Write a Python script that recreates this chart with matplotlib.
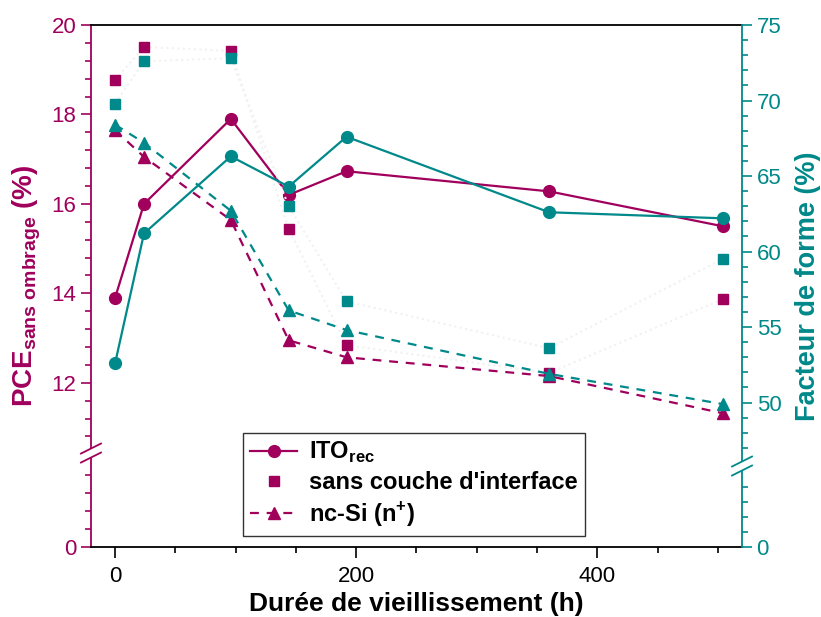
import numpy as np
import matplotlib
matplotlib.use('Agg')
import matplotlib.pyplot as plt
from matplotlib.ticker import FixedLocator, NullFormatter

plt.rcParams['font.family'] = ['Liberation Sans', 'DejaVu Sans']
plt.rcParams['mathtext.fontset'] = 'custom'
plt.rcParams['mathtext.rm'] = 'Liberation Sans'
plt.rcParams['mathtext.bf'] = 'Liberation Sans:bold'

# data
hours = [0, 24, 96, 144, 192, 360, 504]

pce_ito = [13.9, 16.0, 17.9, 16.2, 16.73, 16.28, 15.5]
pce_sans = [18.77, 19.51, 19.42, 15.44, 12.84, 12.22, 13.87]
pce_ncsi = [17.65, 17.05, 15.64, 12.95, 12.57, 12.15, 11.32]

ff_ito = [52.6, 61.2, 66.3, 64.3, 67.6, 62.6, 62.2]
ff_sans = [69.8, 72.6, 72.8, 63.0, 56.7, 53.6, 59.5]
ff_ncsi = [68.4, 67.2, 62.7, 56.1, 54.8, 51.9, 49.9]

labels = [r'ITO$_{\mathregular{rec}}$', "sans couche d'interface", r'nc-Si (n$^{\mathregular{+}}$)']

magenta = '#A0005C'
teal = '#00898A'
faint = '#f1f1f1'


def broken(a, b):
    # piecewise linear scale: [0, a] kept, (a, b) squeezed out
    g = 1e-3

    def fwd(v):
        v = np.asarray(v, dtype=float)
        return np.where(v <= a, v, np.where(v >= b, v - (b - a) + g, a + (v - a) * g / (b - a)))

    def inv(u):
        u = np.asarray(u, dtype=float)
        return np.where(u <= a, u, np.where(u >= a + g, u + (b - a) - g, a + (u - a) * (b - a) / g))
    return fwd, inv


fig = plt.figure(figsize=(8.21, 6.17), dpi=100)
ax = fig.add_axes([0.1108, 0.1135, 0.793, 0.846])
ax2 = ax.twinx()

# left axis: PCE
la, lb = 2.1, 10.43
ax.set_yscale('function', functions=broken(la, lb))
ax.set_ylim(0, 20)
ax.set_xlim(-20, 520)

ax.plot(hours, pce_sans, ls=':', color=faint, lw=1.5, zorder=1)
ax.plot(hours, pce_ito, '-o', color=magenta, lw=1.6, ms=8.5, label=labels[0], zorder=3)
ax.plot(hours, pce_sans, 's', color=magenta, ms=7.5, label=labels[1], zorder=3)
ax.plot(hours, pce_ncsi, '--^', color=magenta, lw=1.6, ms=9, dashes=(4, 3.5), label=labels[2], zorder=3)

# right axis: FF
ra, rb = 5.36, 45.8
ax2.set_yscale('function', functions=broken(ra, rb))
ax2.set_ylim(0, 75)
ax2.plot(hours, ff_sans, ls=':', color=faint, lw=1.5, zorder=1)
ax2.plot(hours, ff_ito, '-o', color=teal, lw=1.6, ms=8.5, zorder=3)
ax2.plot(hours, ff_sans, 's', color=teal, ms=7.5, zorder=3)
ax2.plot(hours, ff_ncsi, '--^', color=teal, lw=1.6, ms=9, dashes=(4, 3.5), zorder=3)

# ticks
ax.yaxis.set_major_locator(FixedLocator([0, 12, 14, 16, 18, 20]))
lminor = [0.4, 0.8, 1.2, 1.6] + [v for v in np.arange(10.8, 20, 0.4) if abs(v / 2 - round(v / 2)) > 0.01]
ax.yaxis.set_minor_locator(FixedLocator(lminor))
ax.yaxis.set_minor_formatter(NullFormatter())
ax2.yaxis.set_major_locator(FixedLocator([0, 50, 55, 60, 65, 70, 75]))
rminor = [1, 2, 3, 4] + [v for v in range(47, 75) if v % 5]
ax2.yaxis.set_minor_locator(FixedLocator(rminor))
ax2.yaxis.set_minor_formatter(NullFormatter())
ax.xaxis.set_major_locator(FixedLocator([0, 200, 400]))
ax.xaxis.set_minor_locator(FixedLocator([50, 100, 150, 250, 300, 350, 450, 500]))

ax.tick_params(axis='x', which='major', direction='out', length=8, width=1.2, labelsize=16, pad=6, top=False)
ax.tick_params(axis='x', which='minor', direction='out', length=4.5, width=1.2, top=False)
ax.tick_params(axis='y', which='major', direction='out', length=7, width=1.2, colors=magenta, labelsize=16)
ax.tick_params(axis='y', which='minor', direction='out', length=4, width=1.2, colors=magenta)
ax2.tick_params(axis='y', which='major', direction='out', length=7, width=1.2, colors=teal, labelsize=16)
ax2.tick_params(axis='y', which='minor', direction='out', length=4, width=1.2, colors=teal)

for s in ['top', 'bottom']:
    ax.spines[s].set_linewidth(1.3)
ax.spines['left'].set_color(magenta)
ax.spines['left'].set_linewidth(1.3)
ax2.spines['right'].set_color(teal)
ax2.spines['right'].set_linewidth(1.3)
for s in ['left', 'top', 'bottom']:
    ax2.spines[s].set_visible(False)
ax.spines['right'].set_visible(False)

ax.set_ylabel(r'PCE$_{\mathregular{sans\ ombrage}}$ (%)', color=magenta, fontsize=20, fontweight='bold', labelpad=6)
ax2.set_ylabel('Facteur de forme (%)', color=teal, fontsize=19.5, fontweight='bold', labelpad=10)
ax.set_xlabel('Durée de vieillissement (h)', fontsize=19, fontweight='bold', labelpad=3)

# axis break marks
def break_mark(axis, xfrac, yfrac, color):
    w = 10 / 651
    h = 5 / 522
    d = 4.5 / 522
    axis.plot([xfrac, xfrac], [yfrac - d, yfrac + d], transform=axis.transAxes, color='white',
              lw=3, clip_on=False, zorder=10, solid_capstyle='butt')
    for off in (-d, d):
        axis.plot([xfrac - w, xfrac + w], [yfrac + off - h, yfrac + off + h], transform=axis.transAxes,
                  color=color, lw=1.3, clip_on=False, zorder=11)

lf, _ = broken(la, lb)
rf, _ = broken(ra, rb)
break_mark(ax, 0.0, float(lf(la) / lf(20)), magenta)
break_mark(ax2, 1.0, float(rf(ra) / rf(75)), teal)

leg = ax.legend(loc='lower left', bbox_to_anchor=(243 / 821, 1 - 536 / 617), bbox_transform=fig.transFigure,
                frameon=True, fancybox=False, edgecolor='black',
                prop={'weight': 'bold', 'size': 17}, handlelength=2.0, handletextpad=0.5,
                labelspacing=0.25, borderpad=0.3, borderaxespad=0)
leg.get_frame().set_linewidth(1.0)
leg.set_zorder(20)

fig.savefig('out.png', dpi=100, facecolor='white')
